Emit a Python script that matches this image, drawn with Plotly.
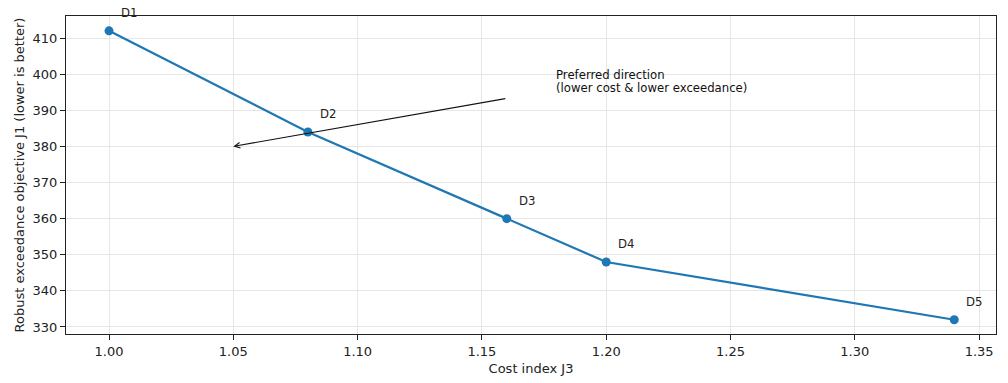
import plotly.graph_objects as go

designs = ["D1", "D2", "D3", "D4", "D5"]
cost_j3 = [1.00, 1.08, 1.16, 1.20, 1.34]
robust_j1 = [412, 384, 360, 348, 332]

x_ticks = [1.00, 1.05, 1.10, 1.15, 1.20, 1.25, 1.30, 1.35]
y_ticks = [330, 340, 350, 360, 370, 380, 390, 400, 410]

arrow_from = (1.16, 393.3)
arrow_to = (1.05, 380)
note_lines = ["Preferred direction", "(lower cost & lower exceedance)"]
note_x = 1.18
note_y = [399.75, 396.15]

FONT = "DejaVu Sans"
fig = go.Figure()
fig.add_trace(go.Scatter(
    x=cost_j3, y=robust_j1, mode="lines+markers",
    line=dict(color="#1f77b4", width=2.2),
    marker=dict(color="#1f77b4", size=9),
    showlegend=False, hoverinfo="skip",
))

annotations = []
for name, xv, yv in zip(designs, cost_j3, robust_j1):
    annotations.append(dict(
        x=xv, y=yv, xref="x", yref="y", text=name, showarrow=False,
        xanchor="left", yanchor="middle", xshift=10, yshift=18,
        font=dict(family=FONT, size=11.7, color="#222"),
    ))
annotations.append(dict(
    x=arrow_to[0], y=arrow_to[1], ax=arrow_from[0], ay=arrow_from[1],
    xref="x", yref="y", axref="x", ayref="y", text="", showarrow=True,
    arrowhead=5, arrowsize=1.0, arrowwidth=1.1, arrowcolor="#111",
))
for line, yv in zip(note_lines, note_y):
    annotations.append(dict(
        x=note_x, y=yv, xref="x", yref="y", text=line,
        showarrow=False, xanchor="left", yanchor="middle", align="left",
        xshift=-2, font=dict(family=FONT, size=11.7, color="#111"),
    ))

axis_common = dict(
    showline=True, linecolor="#222", linewidth=1, mirror=True,
    ticks="outside", ticklen=5, tickcolor="#222", tickwidth=1,
    showgrid=True, gridcolor="#e6e6e6", gridwidth=1, zeroline=False,
    tickfont=dict(family=FONT, size=13, color="#222"),
    automargin=False,
)

fig.update_layout(
    width=1008, height=383,
    margin=dict(l=66, r=12, t=16, b=49, autoexpand=False),
    paper_bgcolor="white", plot_bgcolor="white",
    font=dict(family=FONT, color="#222"),
    annotations=annotations,
    xaxis=dict(
        range=[0.9827, 1.3568], tickvals=x_ticks,
        ticktext=[f"{v:.2f}" for v in x_ticks],
        title=dict(text="Cost index J3", font=dict(family=FONT, size=13), standoff=6),
        **axis_common,
    ),
    yaxis=dict(
        range=[328.06, 416.1], tickvals=y_ticks,
        ticktext=[str(v) for v in y_ticks],
        title=dict(text="Robust exceedance objective J1 (lower is better)", font=dict(family=FONT, size=13), standoff=5),
        **axis_common,
    ),
)

fig.write_html(
    "out.html",
    config={"displayModeBar": False},
    post_script="document.body.style.margin='0';document.body.style.overflow='hidden';",
)
